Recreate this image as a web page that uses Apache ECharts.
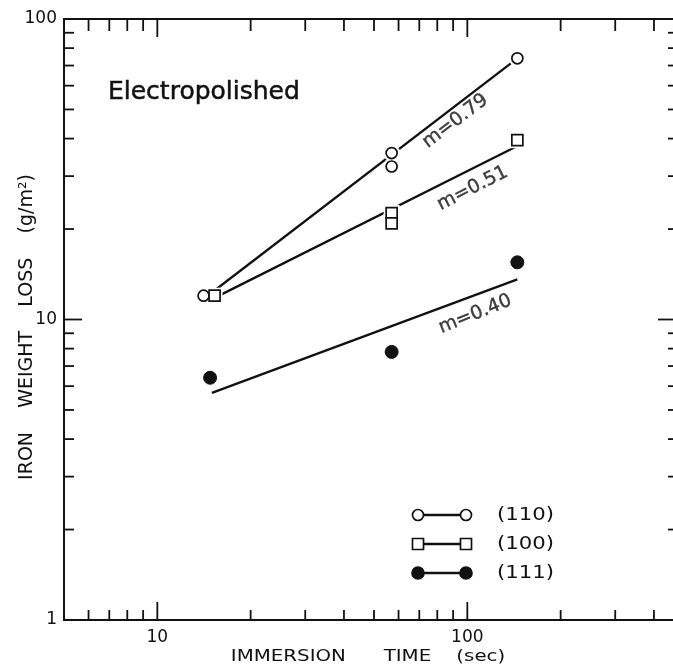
<!DOCTYPE html>
<html><head><meta charset="utf-8">
<script src="https://cdn.jsdelivr.net/npm/echarts@6/dist/echarts.min.js"></script>
<style>html,body{margin:0;padding:0;background:#fff}#c{width:673px;height:670px}</style>
</head><body><div id="c"></div><script>
// axis ranges & ticks
const xMin = 5, xMax = 500, yMin = 1, yMax = 100;
const xMajorTicks = [10, 100];
const xMinorTicks = [6, 7, 8, 9, 20, 30, 40, 50, 60, 70, 80, 90, 200, 300, 400];
const yMajorTicks = [10];
const yMinorTicks = [2, 3, 4, 5, 6, 7, 8, 9, 20, 30, 40, 50, 60, 70, 80, 90];
const xTickLabels = ['10', '100'];
const yTickLabels = ['1', '10', '100'];
// (110) open circles
const time110 = [14.1, 57, 57, 145];
const loss110 = [12.0, 35.8, 32.3, 74];
// (100) open squares
const time100 = [15.3, 57, 57, 145];
const loss100 = [12.0, 22.6, 20.9, 39.5];
// (111) filled circles
const time111 = [14.8, 57, 145];
const loss111 = [6.4, 7.8, 15.5];
// fitted lines (end points)
const fit110X = [15, 145], fit110Y = [12.3, 74];
const fit100X = [15.3, 145], fit100Y = [11.8, 37.8];
const fit111X = [15, 145], fit111Y = [5.7, 13.6];
// slope labels
const slopeText = ['m=0.79', 'm=0.51', 'm=0.40'];
const slopeX = [91.5, 104, 106];
const slopeY = [45.7, 27.3, 10.4];
const slopeAngle = [37, 27, 22];
const legendNames = ['(110)', '(100)', '(111)'];

const zip = (a, b) => a.map((v, i) => [v, b[i]]);
const chart = echarts.init(document.getElementById('c'));
const INK = '#111';
const FONT = 'DejaVu Sans';

function seg(x1, y1, x2, y2) {
  return { type: 'line', shape: { x1, y1, x2, y2 }, style: { stroke: INK, lineWidth: 1.8 } };
}
function xTicks(lenB, lenT) {
  return function (params, api) {
    const v = api.value(0);
    const b = api.coord([v, yMin]);
    const t = api.coord([v, yMax]);
    return { type: 'group', children: [seg(b[0], b[1], b[0], b[1] - lenB), seg(t[0], t[1], t[0], t[1] + lenT)] };
  };
}
function yTicks(lenL, lenR) {
  return function (params, api) {
    const v = api.value(1);
    const l = api.coord([xMin, v]);
    const r = api.coord([xMax, v]);
    return { type: 'group', children: [seg(l[0], l[1], l[0] + lenL, l[1]), seg(r[0], r[1], r[0] - lenR, r[1])] };
  };
}

const lineStyle = { color: INK, width: 2.3 };
const legendRows = [515, 544, 573];
const legendKinds = ['circle', 'rect', 'filled'];
const g = [];
legendRows.forEach((y, i) => {
  g.push({ type: 'line', shape: { x1: 418, y1: y, x2: 466, y2: y }, style: { stroke: INK, lineWidth: 2.3 }, z: 10 });
  [418, 466].forEach(x => {
    if (legendKinds[i] === 'rect') {
      g.push({ type: 'rect', shape: { x: x - 5.5, y: y - 5.5, width: 11, height: 11 }, style: { fill: '#fff', stroke: INK, lineWidth: 1.7 }, z: 11 });
    } else {
      const filled = legendKinds[i] === 'filled';
      g.push({ type: 'circle', shape: { cx: x, cy: y, r: filled ? 6 : 5.5 }, style: { fill: filled ? INK : '#fff', stroke: INK, lineWidth: 1.7 }, z: 11 });
    }
  });
  g.push({ type: 'text', x: 497, y: y, scaleX: 1.18, style: { text: legendNames[i], font: '18px "' + FONT + '"', fill: INK, textAlign: 'left', textVerticalAlign: 'middle' }, z: 11 });
});
g.push({ type: 'text', x: 108, y: 92, style: { text: 'Electropolished', font: '25px "' + FONT + '"', fill: INK, stroke: INK, lineWidth: 0.5, textAlign: 'left', textVerticalAlign: 'middle' }, z: 11 });
g.push({ type: 'text', x: 368, y: 657, scaleX: 1.2, style: { text: 'IMMERSION      TIME    (sec)', font: '16.5px "' + FONT + '"', fill: INK, textAlign: 'center', textVerticalAlign: 'middle' }, z: 11 });
g.push({ type: 'text', x: 27, y: 327, rotation: Math.PI / 2, style: { text: 'IRON    WEIGHT    LOSS    (g/m²)', font: '19px "' + FONT + '"', fill: INK, textAlign: 'center', textVerticalAlign: 'middle' }, z: 11 });

const labelFmt = list => (v => { const s = String(Math.round(v)); return list.indexOf(s) >= 0 ? s : ''; });

chart.setOption({
  animation: false,
  backgroundColor: '#fff',
  grid: { left: 64, top: 19, bottom: 50, right: -11, containLabel: false, outerBoundsMode: 'none',
    show: true, borderColor: INK, borderWidth: 2, backgroundColor: 'transparent' },
  xAxis: {
    type: 'log', logBase: 10, min: xMin, max: xMax,
    axisLine: { show: true, onZero: false, lineStyle: { color: INK, width: 2 } },
    axisTick: { show: false }, splitLine: { show: false },
    axisLabel: { color: INK, fontFamily: FONT, fontSize: 17, margin: 9, formatter: labelFmt(xTickLabels) }
  },
  yAxis: {
    type: 'log', logBase: 10, min: yMin, max: yMax,
    axisLine: { show: true, lineStyle: { color: INK, width: 2 } },
    axisTick: { show: false }, splitLine: { show: false },
    axisLabel: { color: INK, fontFamily: FONT, fontSize: 17, margin: 7, formatter: labelFmt(yTickLabels) }
  },
  graphic: g,
  series: [
    { type: 'custom', renderItem: xTicks(10, 12), data: xMinorTicks.map(v => [v, yMin]), silent: true, clip: false },
    { type: 'custom', renderItem: xTicks(18, 18), data: xMajorTicks.map(v => [v, yMin]), silent: true, clip: false },
    { type: 'custom', renderItem: yTicks(10, 16), data: yMinorTicks.map(v => [xMin, v]), silent: true, clip: false },
    { type: 'custom', renderItem: yTicks(18, 26), data: yMajorTicks.map(v => [xMin, v]), silent: true, clip: false },
    { type: 'line', data: zip(fit110X, fit110Y), symbol: 'none', lineStyle: lineStyle, z: 2 },
    { type: 'line', data: zip(fit100X, fit100Y), symbol: 'none', lineStyle: lineStyle, z: 2 },
    { type: 'line', data: zip(fit111X, fit111Y), symbol: 'none', lineStyle: lineStyle, z: 2 },
    // white halos that break the lines around the markers
    { type: 'scatter', data: zip(time110, loss110), symbol: 'circle', symbolSize: 17, itemStyle: { color: '#fff', opacity: 1 }, z: 4, silent: true },
    { type: 'scatter', data: zip(time100, loss100), symbol: 'rect', symbolSize: 16, itemStyle: { color: '#fff', opacity: 1 }, z: 4, silent: true },
    { type: 'scatter', data: zip(time110, loss110), symbol: 'circle', symbolSize: 11,
      itemStyle: { color: '#fff', borderColor: INK, borderWidth: 1.7, opacity: 1 }, z: 5 },
    { type: 'scatter', data: zip(time100, loss100), symbol: 'rect', symbolSize: 11,
      itemStyle: { color: '#fff', borderColor: INK, borderWidth: 1.7, opacity: 1 }, z: 5 },
    { type: 'scatter', data: zip(time111, loss111), symbol: 'circle', symbolSize: 13,
      itemStyle: { color: INK, borderColor: INK, borderWidth: 1, opacity: 1 }, z: 5 },
    { type: 'scatter', symbolSize: 0, z: 6,
      data: slopeX.map((x, i) => ({ value: [x, slopeY[i]], name: slopeText[i], label: { rotate: slopeAngle[i] } })),
      label: { show: true, position: 'inside', formatter: p => p.name, color: INK, fontFamily: FONT, fontSize: 19,
        textBorderColor: INK, textBorderWidth: 0.4 } }
  ]
});
</script></body></html>
